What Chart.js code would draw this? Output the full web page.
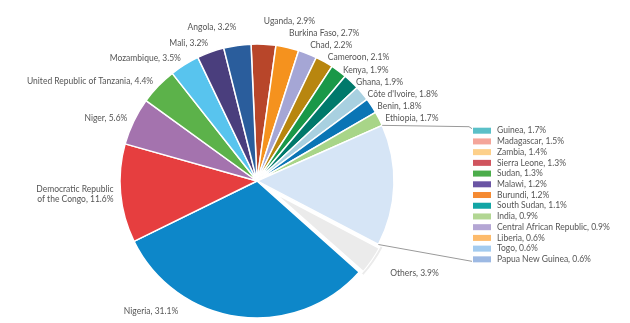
<!DOCTYPE html>
<html lang="en">
<head>
<meta charset="UTF-8">
<meta name="viewport" content="width=device-width, initial-scale=1.0">
<script src="https://cdn.jsdelivr.net/npm/chart.js"></script>
<style>
    body { margin: 0; background: #fff; }
</style>
</head>
<body>
<canvas id="pieChart" width="630" height="323"></canvas>
<script>
    // slices clockwise from the top, '' is the grouped slice broken down on the right
    const countries = ['Uganda', 'Burkina Faso', 'Chad', 'Cameroon', 'Kenya', 'Ghana', "Côte d'Ivoire", 'Benin', 'Ethiopia',
        '', 'Others', 'Nigeria', 'Democratic Republic\nof the Congo', 'Niger', 'United Republic of Tanzania',
        'Mozambique', 'Mali', 'Angola'];
    const shares = [2.9, 2.7, 2.2, 2.1, 1.9, 1.9, 1.8, 1.8, 1.7, null, 3.9, 31.1, 11.6, 5.6, 4.4, 3.5, 3.2, 3.2];
    const sliceColors = ['#b8462a', '#f5921e', '#a5a6d5', '#b8860f', '#1a9848', '#00796b', '#a8d0e0', '#0a75b5', '#a8d588',
        '#d6e5f6', '#ebebeb', '#0d87c9', '#e63e3f', '#a473ae', '#5cb24a', '#58c4ee', '#4a3e7d', '#2a5d9c'];

    // breakdown of the grouped slice
    const groupCountries = ['Guinea', 'Madagascar', 'Zambia', 'Sierra Leone', 'Sudan', 'Malawi', 'Burundi', 'South Sudan',
        'India', 'Central African Republic', 'Liberia', 'Togo', 'Papua New Guinea'];
    const groupShares = [1.7, 1.5, 1.4, 1.3, 1.3, 1.2, 1.2, 1.1, 0.9, 0.9, 0.6, 0.6, 0.6];
    const groupColors = ['#5bc0c8', '#f4a59a', '#fdd08a', '#d0545e', '#4cad4b', '#6a55a4', '#f58a32', '#12a5a5',
        '#b2d693', '#b4a6d4', '#fdbb6c', '#a3cbef', '#9db9e3'];

    const groupTotal = groupShares.reduce((s, v) => s + v, 0);
    const pieValues = shares.map(v => v === null ? groupTotal : v);

    const FONT = '8.5px Lato';
    const TEXT = '#555555';

    // right side: spread overlapping labels round their mean
    function spreadMean(list, gap) {
        list.sort((a, b) => a.y - b.y);
        let groups = list.map(it => ({ items: [it], mean: it.y }));
        let merged = true;
        while (merged) {
            merged = false;
            for (let k = 0; k < groups.length - 1; k++) {
                const a = groups[k], b = groups[k + 1];
                const aBottom = a.mean + (a.items.length - 1) * gap / 2;
                const bTop = b.mean - (b.items.length - 1) * gap / 2;
                if (bTop - aBottom < gap) {
                    const items = a.items.concat(b.items);
                    groups.splice(k, 2, { items, mean: items.reduce((s, it) => s + it.y, 0) / items.length });
                    merged = true;
                    break;
                }
            }
        }
        groups.forEach(g => g.items.forEach((it, j) => {
            it.y = g.mean + (j - (g.items.length - 1) / 2) * gap;
        }));
    }

    // left side: push upper labels upwards
    function spreadUp(list, gap, cy) {
        const upper = list.filter(it => it.y < cy).sort((a, b) => b.y - a.y);
        for (let k = 1; k < upper.length; k++) {
            upper[k].y = Math.min(upper[k].y, upper[k - 1].y - gap);
        }
    }

    const labelPlugin = {
        id: 'outsideLabels',
        afterDatasetsDraw(chart) {
            const ctx = chart.ctx;
            const arcs = chart.getDatasetMeta(0).data;
            const left = [], right = [];
            let group = null, cy = 0;
            arcs.forEach((arc, i) => {
                const p = arc.getProps(['x', 'y', 'startAngle', 'endAngle', 'outerRadius']);
                cy = p.y;
                if (!countries[i]) { group = p; return; }
                const mid = (p.startAngle + p.endAngle) / 2;
                const r = p.outerRadius + 7 + (arc.options.offset || 0) * 1.5;
                const item = {
                    lines: (countries[i] + ', ' + shares[i].toFixed(1) + '%').split('\n'),
                    x: p.x + Math.cos(mid) * r,
                    y: p.y + Math.sin(mid) * r,
                    right: Math.cos(mid) >= 0
                };
                // keep labels inside the canvas, slide them round the circle
                const maxY = chart.height - 12, minY = 10;
                if (item.y > maxY || item.y < minY) {
                    item.y = Math.min(Math.max(item.y, minY), maxY);
                    const dy = item.y - p.y, rr = r + 8;
                    const dx = Math.sqrt(Math.max(rr * rr - dy * dy, 0));
                    item.x = p.x + (item.right ? dx : -dx);
                }
                (item.right ? right : left).push(item);
            });
            spreadMean(right, 12.1);
            spreadUp(left, 15.5, cy);

            ctx.save();
            ctx.font = FONT;
            ctx.fillStyle = TEXT;
            ctx.textBaseline = 'middle';
            left.concat(right).forEach(it => {
                ctx.textAlign = it.right ? 'left' : 'right';
                const lh = 10.5;
                it.lines.forEach((line, j) => {
                    ctx.fillText(line, it.x, it.y + (j - (it.lines.length - 1) / 2) * lh);
                });
            });

            // breakdown legend
            const lx = 473, ly = 130.7, step = 10.72;
            groupCountries.forEach((name, i) => {
                const y = ly + i * step;
                ctx.fillStyle = groupColors[i];
                ctx.fillRect(lx, y - 3, 18, 6);
                ctx.fillStyle = TEXT;
                ctx.textAlign = 'left';
                ctx.fillText(name + ', ' + groupShares[i].toFixed(1) + '%', lx + 24, y);
            });

            // connectors from the grouped slice to the legend
            if (group) {
                const r = group.outerRadius;
                ctx.strokeStyle = '#9a9a9a';
                ctx.lineWidth = 1;
                ctx.beginPath();
                ctx.moveTo(group.x + Math.cos(group.startAngle) * r, group.y + Math.sin(group.startAngle) * r);
                ctx.lineTo(lx - 4, ly - 4);
                ctx.lineTo(lx - 1, ly - 2);
                ctx.moveTo(group.x + Math.cos(group.endAngle) * r, group.y + Math.sin(group.endAngle) * r);
                ctx.lineTo(lx - 1, ly + (groupCountries.length - 1) * step + 2);
                ctx.stroke();
            }
            ctx.restore();
        }
    };

    const isOthers = c => c === 'Others';

    const ctxPie = document.getElementById('pieChart').getContext('2d');
    const pieChart = new Chart(ctxPie, {
        type: 'pie',
        data: {
            labels: countries,
            datasets: [{
                data: pieValues,
                backgroundColor: sliceColors,
                borderColor: '#ffffff',
                borderWidth: countries.map(c => isOthers(c) ? 3 : 1.5),
                borderAlign: countries.map(c => isOthers(c) ? 'inner' : 'center'),
                offset: countries.map(c => isOthers(c) ? 12 : 0)
            }]
        },
        options: {
            responsive: false,
            animation: false,
            events: [],
            rotation: -2.5,
            radius: 137,
            layout: { padding: { left: 0, right: 116, top: 39, bottom: 0 } },
            plugins: {
                legend: { display: false },
                tooltip: { enabled: false }
            }
        },
        plugins: [labelPlugin]
    });
</script>
</body>
</html>
